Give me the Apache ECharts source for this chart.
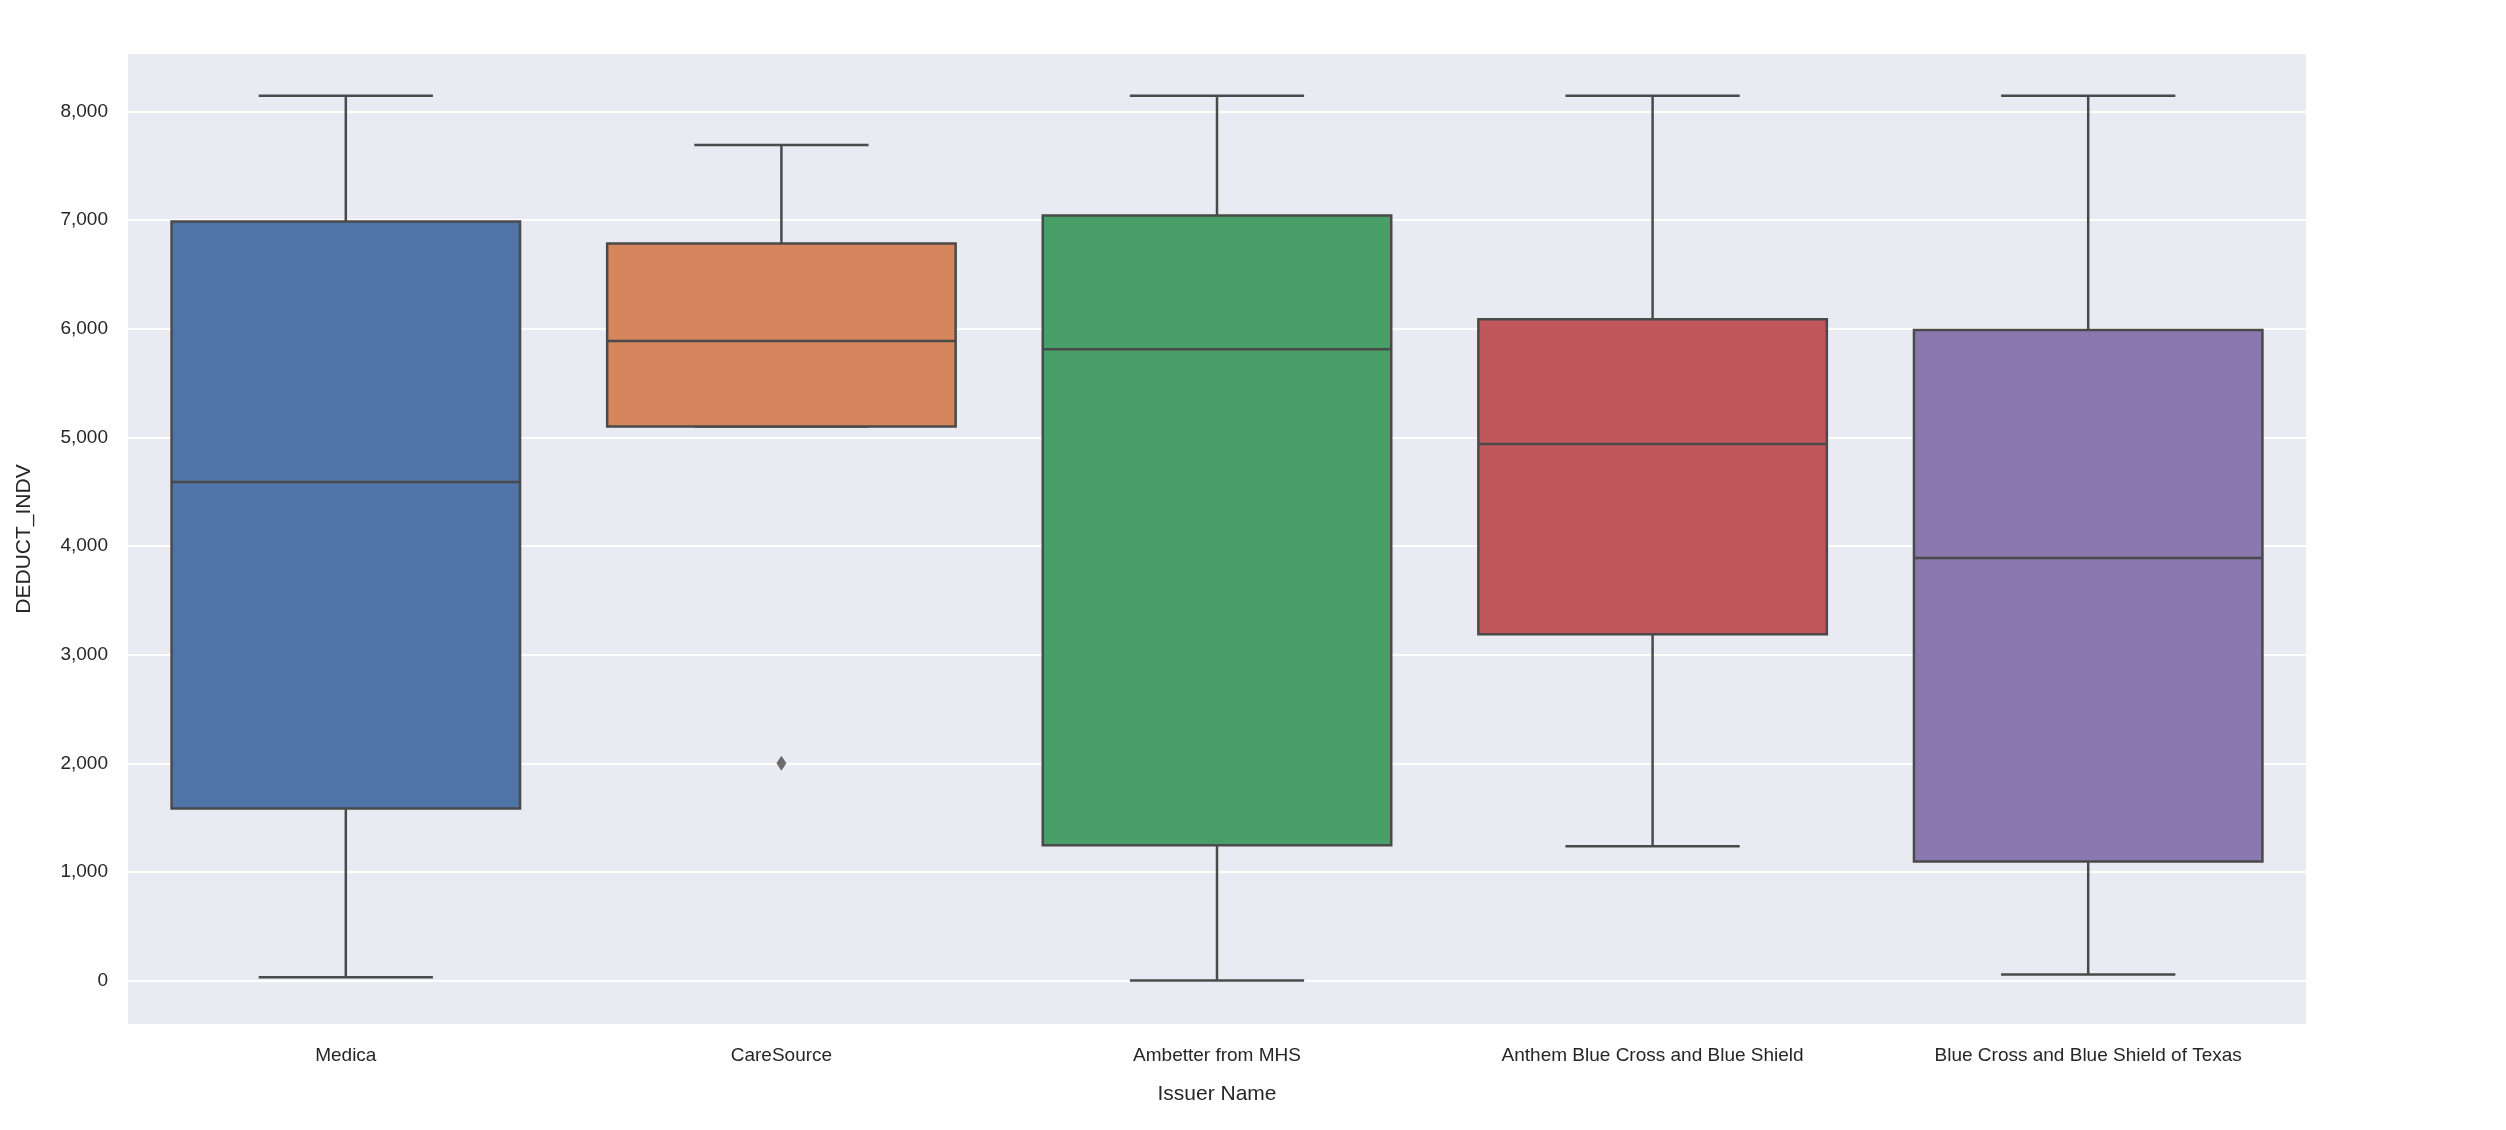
<!DOCTYPE html>
<html lang="en">
<head>
    <meta charset="UTF-8">
    <title>DEDUCT_INDV by issuer</title>
    <script src="https://cdn.jsdelivr.net/npm/echarts@6/dist/echarts.min.js"></script>
</head>
<body style="margin:0;background:#fff">
    <div id="main" style="width: 2506px;height: 1130px"></div>
    <script type="text/javascript">
        var issuers = ['Medica', 'CareSource', 'Ambetter from MHS', 'Anthem Blue Cross and Blue Shield', 'Blue Cross and Blue Shield of Texas'];
        var whiskerLow = [30, 5100, 0, 1236, 56];
        var q1 = [1585, 5100, 1245, 3188, 1095];
        var median = [4590, 5887, 5811, 4939, 3890];
        var q3 = [6987, 6786, 7044, 6088, 5988];
        var whiskerHigh = [8145, 7692, 8145, 8145, 8145];
        var outliers = [[1, 2000]];
        var yTicks = [0, 1000, 2000, 3000, 4000, 5000, 6000, 7000, 8000];
        var colors = ['#4f74a8', '#d5865c', '#48a068', '#c0575d', '#8a78ae'];

        var boxData = issuers.map(function (n, i) {
            return [i, whiskerLow[i], q1[i], median[i], q3[i], whiskerHigh[i]];
        });

        var edge = '#4a4a4a';

        function renderBox(params, api) {
            var i = api.value(0);
            var w = api.size([1, 0])[0] * 0.8;
            var lo = api.coord([i, api.value(1)]);
            var b1 = api.coord([i, api.value(2)]);
            var md = api.coord([i, api.value(3)]);
            var b3 = api.coord([i, api.value(4)]);
            var hi = api.coord([i, api.value(5)]);
            var x = lo[0];
            var ls = { stroke: edge, lineWidth: 2.5 };
            return {
                type: 'group',
                children: [
                    { type: 'line', shape: { x1: x, y1: hi[1], x2: x, y2: b3[1] }, style: ls },
                    { type: 'line', shape: { x1: x, y1: b1[1], x2: x, y2: lo[1] }, style: ls },
                    { type: 'line', shape: { x1: x - w / 4, y1: hi[1], x2: x + w / 4, y2: hi[1] }, style: ls },
                    { type: 'line', shape: { x1: x - w / 4, y1: lo[1], x2: x + w / 4, y2: lo[1] }, style: ls },
                    { type: 'rect', shape: { x: x - w / 2, y: b3[1], width: w, height: b1[1] - b3[1] },
                      style: { fill: colors[params.dataIndex], stroke: edge, lineWidth: 2.5 } },
                    { type: 'line', shape: { x1: x - w / 2, y1: md[1], x2: x + w / 2, y2: md[1] }, style: ls }
                ]
            };
        }

        var option = {
            backgroundColor: '#fff',
            textStyle: { fontFamily: 'Liberation Sans' },
            grid: { left: 128, right: 200, top: 54, bottom: 106, show: true, backgroundColor: '#eaeaf2', borderWidth: 0 },
            xAxis: {
                type: 'category',
                data: issuers,
                name: 'Issuer Name',
                nameLocation: 'middle',
                nameGap: 60,
                nameTextStyle: { fontSize: 21, color: '#262626' },
                axisLine: { show: false },
                axisTick: { show: false },
                axisLabel: { fontSize: 19, color: '#262626', margin: 22 },
                splitLine: { show: false }
            },
            yAxis: {
                type: 'value',
                min: -400,
                max: 8530,
                name: 'DEDUCT_INDV',
                nameLocation: 'middle',
                nameGap: 93,
                nameTextStyle: { fontSize: 21, color: '#262626' },
                axisLine: { show: false },
                axisTick: { show: false, customValues: yTicks },
                axisLabel: { fontSize: 19, color: '#262626', margin: 20, customValues: yTicks, showMinLabel: true, showMaxLabel: true },
                splitLine: { show: true, lineStyle: { color: '#ffffff', width: 2 } }
            },
            series: [
                {
                    type: 'custom',
                    renderItem: renderBox,
                    encode: { x: 0, y: [1, 2, 3, 4, 5] },
                    data: boxData,
                    z: 3
                },
                {
                    type: 'scatter',
                    data: outliers,
                    symbol: 'diamond',
                    symbolSize: [10, 15],
                    itemStyle: { color: edge },
                    z: 4
                }
            ]
        };

        var myChart = echarts.init(document.getElementById('main'));
        myChart.setOption(option);
    </script>
</body>
</html>
